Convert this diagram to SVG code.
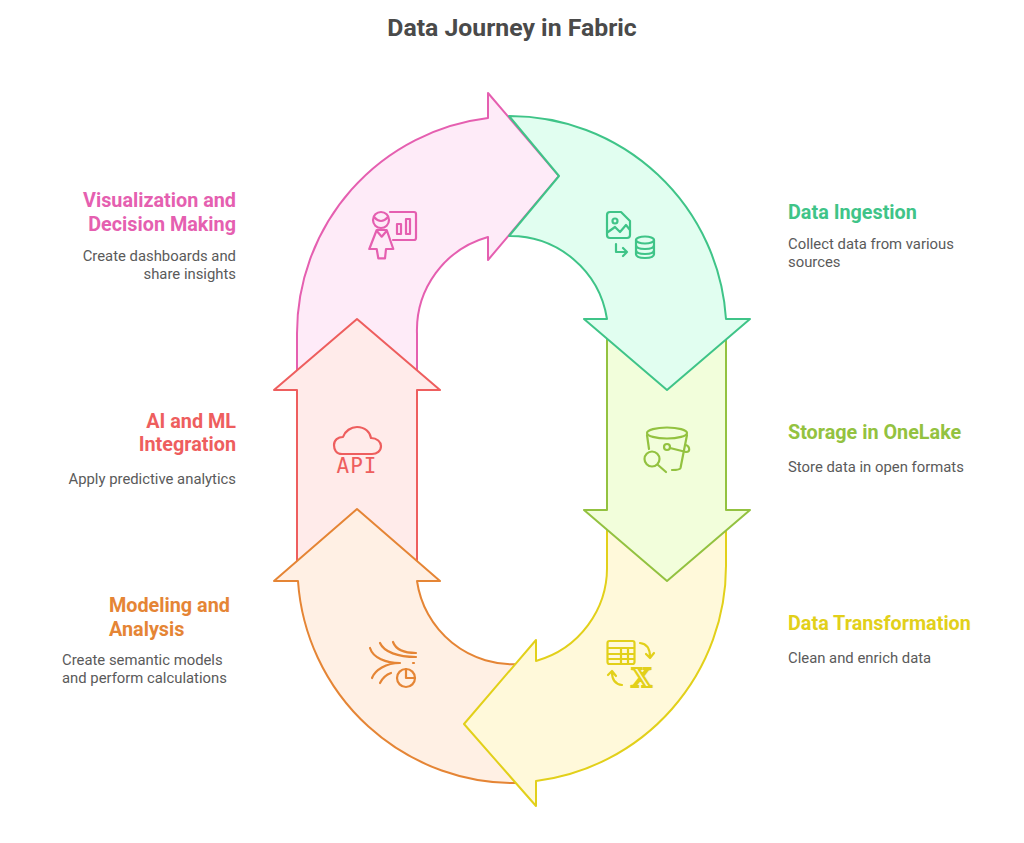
<svg xmlns="http://www.w3.org/2000/svg" width="1024" height="843" viewBox="0 0 1024 843">
<style>
text{font-family:Roboto,"Liberation Sans",sans-serif}
.t{font-size:24.8px;font-weight:700;fill:#4a4a4a}
.h{font-size:19.8px;font-weight:700}
.d{font-size:14.85px;fill:#5a5a5a}
.e{text-anchor:end}
.s{stroke-width:2;stroke-linejoin:round;stroke-linecap:round}
.i{fill:none;stroke-width:2.200;stroke-linejoin:round;stroke-linecap:round}
.pink{stroke:#e55fb0}.green{stroke:#3fc488}.lime{stroke:#93c240}.yellow{stroke:#e2d01a}.orange{stroke:#e58535}.red{stroke:#ee5e5e}
</style>
<rect width="1024" height="843" fill="#fff"/>
<text class="t" x="512" y="36" text-anchor="middle">Data Journey in Fabric</text>
<g id="connectors">
<path id="arrow-visualization" class="s pink" fill="#feebf8" d="M297 372V334A217 217 0 0 1 488 118V93L559 176L488 260V237A97 97 0 0 0 417 334V372Z"/>
<path id="arrow-ai" class="s red" fill="#ffebea" d="M357 319L440 390H417V562H297V390H274Z"/>
<path id="arrow-modeling" class="s orange" fill="#fff0e4" d="M357 509L440 581H417A97 97 0 0 0 520 664L520 783A217 217 0 0 1 298 581H274Z"/>
<path id="arrow-transformation" class="s yellow" fill="#fff9da" d="M464 724L536 640V661A97 97 0 0 0 607 565V525H726V565A217 217 0 0 1 536 781V806Z"/>
<path id="arrow-storage" class="s lime" fill="#f2fedb" d="M607 335H726V510H750L667 581L584 510H607Z"/>
<path id="arrow-ingestion" class="s green" fill="#e1fef0" d="M509 116A217 217 0 0 1 726 319H750L667 390L584 319H607A98 98 0 0 0 509 236L559 176Z"/>
</g>
<g id="node-ingestion">
<g class="i green">
<path d="M610 212H621L630 221V235Q630 238 627 238H610Q607 238 607 235V215Q607 212 610 212Z"/>
<circle cx="615" cy="221" r="2.500"/>
<path d="M608 232L615 227L620 232L626 225L630 230"/>
<path d="M616 244V252H627M623 248L627 252L623 256"/>
<ellipse cx="645" cy="240" rx="9" ry="3.500"/>
<path d="M636 240V254Q636 258 645 258Q654 258 654 254V240M636 245Q636 249 645 249Q654 249 654 245M636 250Q636 254 645 254Q654 254 654 250"/>
</g>
<text class="h" x="788" y="219" fill="#3fc488">Data Ingestion</text>
<text class="d" x="788" y="249">Collect data from various</text>
<text class="d" x="788" y="267">sources</text>
</g>
<g id="node-storage">
<g class="i lime">
<ellipse cx="667" cy="433" rx="20" ry="5.500"/>
<path d="M647 435L649 449M687 435L680.500 468Q680 470 672 470"/>
<circle cx="667" cy="447" r="3"/>
<path d="M670 448L686 452Q690 452 689 448Q688 445 685 445"/>
<circle cx="652" cy="459" r="7.500"/>
<path d="M658 465L666 472"/>
</g>
<text class="h" x="788" y="439" fill="#93c240">Storage in OneLake</text>
<text class="d" x="788" y="472">Store data in open formats</text>
</g>
<g id="node-transformation">
<g class="i yellow">
<rect x="607.500" y="641" width="27" height="23" rx="2"/>
<path d="M608 648H634M608 654H634M608 659H634M621 648V664M628 648V664"/>
<path d="M640 643Q650 644 650 657M646 654L650 658L654 653"/>
<path d="M622 685Q612 684 612 672M608 675L612 671L616 676"/>
</g>
<text x="641.500" y="687" text-anchor="middle" font-weight="700" font-size="29" fill="none" stroke="#e2d01a" stroke-width="2.200" style="font-family:'Liberation Serif',serif">X</text>
<text class="h" x="788" y="630" fill="#e2d01a">Data Transformation</text>
<text class="d" x="788" y="663">Clean and enrich data</text>
</g>
<g id="node-modeling">
<g class="i orange">
<path d="M393 642C396 650 406 653 416 653M380 643C384 652 398 657 416 657M370 648C373 658 386 663 400 663M372 678C375 670 386 663 400 663M380 683C383 677 388 674 391 673"/>
<path d="M413 663H414"/>
<circle cx="406" cy="678" r="9"/>
<path d="M406 669V678H415"/>
</g>
<text class="h" x="109" y="612" fill="#e58535">Modeling and</text>
<text class="h" x="109" y="636" fill="#e58535">Analysis</text>
<text class="d" x="62" y="665">Create semantic models</text>
<text class="d" x="62" y="683">and perform calculations</text>
</g>
<g id="node-ai">
<path class="i red" d="M342 454C336 454 334 449 334 445C334 440 338 437 343 437C345 431 351 427 357 427C365 427 370 432 371 438C377 438 381 442 381 446C381 451 377 454 372 454Z"/>
<text x="357" y="473" text-anchor="middle" font-size="21" letter-spacing="1" fill="#ee5e5e" style="font-family:'DejaVu Sans Mono',monospace">API</text>
<text class="h e" x="236" y="428" fill="#ee5e5e">AI and ML</text>
<text class="h e" x="236" y="451" fill="#ee5e5e">Integration</text>
<text class="d e" x="236" y="484">Apply predictive analytics</text>
</g>
<g id="node-visualization">
<g class="i pink">
<circle cx="381" cy="220" r="8"/>
<path d="M374 217Q381 225 388 217"/>
<path d="M376.700 230L369.300 249H376.700L378.300 258.300H385L386 249H393.300L386.700 230ZM377.700 232L381.700 236.700L385.700 232"/>
<path d="M390 212H414Q416 212 416 214V238Q416 240 414 240H393"/>
<rect x="397" y="224" width="4" height="10"/>
<rect x="406" y="219" width="4" height="15"/>
</g>
<text class="h e" x="236" y="207" fill="#e55fb0">Visualization and</text>
<text class="h e" x="236" y="231" fill="#e55fb0">Decision Making</text>
<text class="d e" x="236" y="261">Create dashboards and</text>
<text class="d e" x="236" y="279">share insights</text>
</g>
</svg>
